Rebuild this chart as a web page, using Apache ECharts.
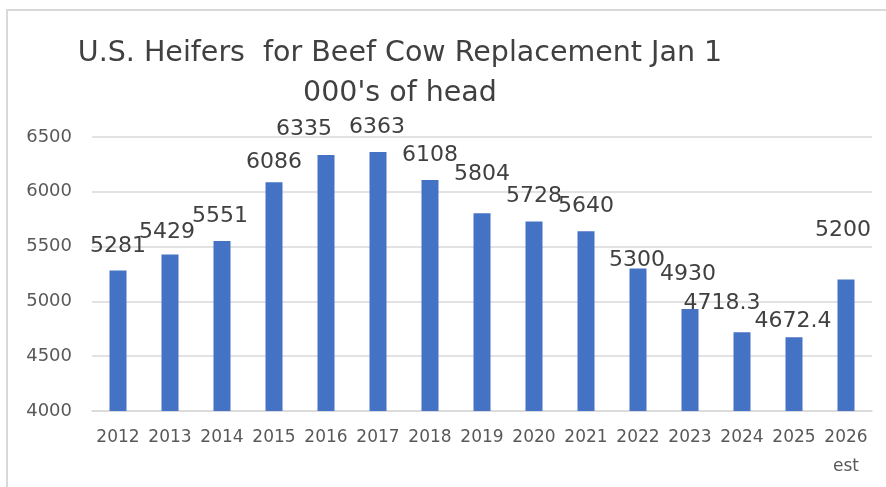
<!DOCTYPE html>
<html>
<head>
<meta charset="utf-8">
<style>
  html, body { margin: 0; padding: 0; background: #ffffff; }
  #chart { width: 886px; height: 487px; }
</style>
<script src="https://cdn.jsdelivr.net/npm/echarts@6/dist/echarts.min.js"></script>
</head>
<body>
<div id="chart"></div>
<script>
// ---- data ----
const titleLine1 = 'U.S. Heifers  for Beef Cow Replacement Jan 1';
const titleLine2 = "000's of head";
const categories = ['2012', '2013', '2014', '2015', '2016', '2017', '2018', '2019', '2020', '2021', '2022', '2023', '2024', '2025', '2026\nest'];
const heifers = [5281, 5429, 5551, 6086, 6335, 6363, 6108, 5804, 5728, 5640, 5300, 4930, 4718.3, 4672.4, 5200];
const yTicks = { min: 4000, max: 6500, interval: 500 };

// ---- label placement (style, not data): [dx, gap above bar top] ----
const labelPlacement = [[0,24],[-3,22],[-2,25],[0,20],[-22,26],[-1,25],[0,25],[0,39],[0,25],[0,25],[-1,8],[-2,35],[-20,29],[-1,16],[-3,49]];

const chart = echarts.init(document.getElementById('chart'), null, { renderer: 'canvas' });
const font = 'DejaVu Sans';

const seriesData = heifers.map((v, i) => ({
  value: v,
  label: { offset: [labelPlacement[i][0], -(labelPlacement[i][1] - 11)] }
}));

const option = {
  animation: false,
  backgroundColor: '#ffffff',
  title: {
    text: titleLine1 + '\n' + titleLine2,
    left: 395,
    top: 29,
    textAlign: 'center',
    textStyle: { fontFamily: font, fontSize: 28.5, fontWeight: 'normal', color: '#404040', lineHeight: 40 }
  },
  graphic: [
    { type: 'rect', silent: true, shape: { x: 6, y: 9, width: 880, height: 2 }, style: { fill: '#d9d9d9' } },
    { type: 'rect', silent: true, shape: { x: 6, y: 9, width: 2, height: 478 }, style: { fill: '#d9d9d9' } }
  ],
  grid: { left: 92, right: 14, top: 137, bottom: 76 },
  xAxis: {
    type: 'category',
    data: categories,
    axisLine: { show: true, lineStyle: { color: '#d9d9d9', width: 1.5 } },
    axisTick: { show: false },
    axisLabel: { fontFamily: font, fontSize: 17, color: '#595959', margin: 12, lineHeight: 29, interval: 0 }
  },
  yAxis: {
    type: 'value',
    min: yTicks.min,
    max: yTicks.max,
    interval: yTicks.interval,
    axisLine: { show: false },
    axisTick: { show: false },
    splitLine: { lineStyle: { color: '#d9d9d9', width: 1.5 } },
    axisLabel: { fontFamily: font, fontSize: 18, color: '#595959', margin: 20, formatter: (v) => String(v) }
  },
  series: [{
    type: 'bar',
    data: seriesData,
    barWidth: 17,
    itemStyle: { color: '#4472c4' },
    label: {
      show: true,
      position: 'top',
      distance: 0,
      fontFamily: font,
      fontSize: 22,
      color: '#404040'
    }
  }]
};
chart.setOption(option);
</script>
</body>
</html>
